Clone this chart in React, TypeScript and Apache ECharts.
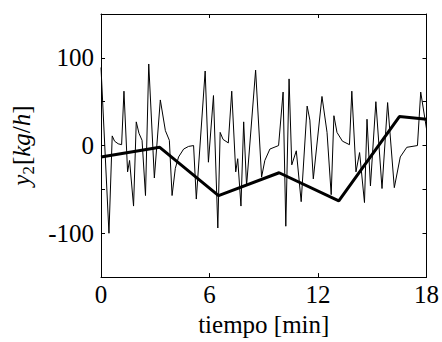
import React, { useEffect, useRef } from "react";
import * as echarts from "echarts";

const thinT = [0, 0.44, 0.62, 0.75, 0.95, 1.14, 1.27, 1.47, 1.58, 1.8, 1.95, 2.1, 2.27, 2.46, 2.64, 2.95, 3.28, 3.56, 3.78, 3.93, 4.11, 4.29, 4.57, 4.84, 5.12, 5.27, 5.76, 5.94, 6.22, 6.46, 6.59, 6.75, 7.04, 7.23, 7.45, 7.56, 7.74, 7.89, 8.05, 8.55, 8.88, 9.06, 9.34, 9.82, 10.07, 10.22, 10.4, 10.55, 10.8, 11.07, 11.4, 11.55, 11.74, 12.22, 12.5, 12.73, 12.88, 13.05, 13.35, 13.74, 13.87, 14.1, 14.3, 14.57, 14.71, 14.9, 15.2, 15.54, 15.85, 16.22, 16.55, 16.91, 17.5, 17.68, 18];
const thinV = [89, -100, 11, 5, 2, 1, 62, -30, -17, -69, 27, 14, 6, -57, 93, -37, 52, 17, 6, -57, -26, -13, -4, -1, 0, -61, 85, -19, 57, -94, 15, 7, 3, 62, -30, -15, -69, 27, -46, 86, -36, -17, -4, 0, 61, -92, 76, -22, -6, -64, 45, 29, -38, 56, 15, -56, 34, 15, 5, 1, 62, -30, -8, -65, 30, -46, 50, -49, 49, -48, -13, -2, 0, 61, 19];

const thickT = [0, 3.25, 6.5, 9.85, 13.15, 16.5, 18];
const thickV = [-13, -2, -57, -31, -63, 33, 30];

const xTicks = [0, 6, 12, 18];
const yTickLabels = [-100, 0, 100];

const FONT = "Liberation Serif";
const FS = 25;

export default function App() {
  const ref = useRef<HTMLDivElement>(null);
  useEffect(() => {
    if (!ref.current) return;
    const chart = echarts.init(ref.current, null, { renderer: "svg" });
    const tickStyle = { show: true, inside: true, length: 4, lineStyle: { color: "#000", width: 1 } };
    const lineStyle = { show: true, onZero: false, lineStyle: { color: "#000", width: 1 } };
    chart.setOption({
      animation: false,
      backgroundColor: "#fff",
      grid: { left: 101, right: 14, top: 14, bottom: 57, show: false },
      xAxis: [
        {
          type: "value",
          min: 0,
          max: 18,
          interval: 6,
          position: "bottom",
          axisLine: lineStyle,
          axisTick: tickStyle,
          splitLine: { show: false },
          axisLabel: {
            color: "#000",
            fontFamily: FONT,
            fontSize: FS,
            margin: 5,
            formatter: (v: number) => (xTicks.includes(v) ? String(v) : ""),
          },
          name: "tiempo [min]",
          nameLocation: "middle",
          nameGap: 31,
          nameTextStyle: { color: "#000", fontFamily: FONT, fontSize: FS },
        },
        {
          type: "value",
          min: 0,
          max: 18,
          interval: 6,
          position: "top",
          axisLine: lineStyle,
          axisTick: tickStyle,
          splitLine: { show: false },
          axisLabel: { show: false },
        },
      ],
      yAxis: [
        {
          type: "value",
          min: -150,
          max: 150,
          interval: 50,
          position: "left",
          axisLine: lineStyle,
          axisTick: tickStyle,
          splitLine: { show: false },
          axisLabel: {
            color: "#000",
            fontFamily: FONT,
            fontSize: FS,
            margin: 7,
            formatter: (v: number) => (yTickLabels.includes(v) ? String(v) : ""),
          },
          name: "{i|y}{s|2}{n|[}{i|kg}{n|/}{i|h}{n|]}",
          nameLocation: "middle",
          nameGap: 57,
          nameRotate: 90,
          nameTextStyle: {
            color: "#000",
            fontFamily: FONT,
            fontSize: FS,
            rich: {
              i: { fontFamily: FONT, fontStyle: "italic", fontSize: FS, lineHeight: 31, verticalAlign: "middle", color: "#000" },
              n: { fontFamily: FONT, fontSize: FS, lineHeight: 31, verticalAlign: "middle", color: "#000" },
              s: { fontFamily: FONT, fontSize: 17, lineHeight: 17, verticalAlign: "bottom", color: "#000", padding: [0, 1, 0, 0] },
            },
          },
        },
        {
          type: "value",
          min: -150,
          max: 150,
          interval: 50,
          position: "right",
          axisLine: lineStyle,
          axisTick: tickStyle,
          splitLine: { show: false },
          axisLabel: { show: false },
        },
      ],
      series: [
        {
          type: "line",
          data: thinT.map((t, i) => [t, thinV[i]]),
          showSymbol: false,
          lineStyle: { color: "#000", width: 1 },
          z: 2,
        },
        {
          type: "line",
          data: thickT.map((t, i) => [t, thickV[i]]),
          showSymbol: false,
          lineStyle: { color: "#000", width: 3 },
          z: 3,
        },
      ],
    });
    return () => chart.dispose();
  }, []);
  return <div ref={ref} style={{ width: 442, height: 342, position: "absolute", left: 0, top: 0 }} />;
}
